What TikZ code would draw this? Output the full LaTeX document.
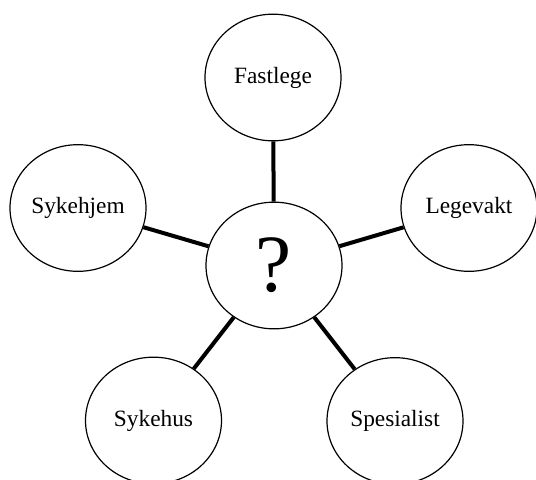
\documentclass[tikz,border=0pt]{standalone}
\usepackage{fontspec}
\setmainfont{Liberation Serif}
\usetikzlibrary{shapes.geometric}

\begin{document}
\begin{tikzpicture}[x=0.75pt, y=-0.75pt, every node/.style={ellipse,draw,line width=0.9pt,minimum width=102pt,minimum height=95pt,inner sep=0pt,font=\fontsize{17.5}{20}\selectfont}]
			\useasboundingbox (0,0) rectangle (536,479);
			% Nodes
			\node (q)         at (274,265.5) {\fontsize{61}{61}\selectfont ?};
			\node (fastlege)  at (273,77.5)  {Fastlege};
			\node (sykehjem)  at (78,208)    {Sykehjem};
			\node (legevakt)  at (469,208)   {Legevakt};
			\node (sykehus)   at (153.5,420.5) {Sykehus};
			\node (spesialist) at (395,421)  {Spesialist};
			% Edges
			\foreach \dst in {fastlege,sykehjem,legevakt,sykehus,spesialist}
			{\draw[line width=3pt] (q) -- (\dst);}
		\end{tikzpicture}
\end{document}
